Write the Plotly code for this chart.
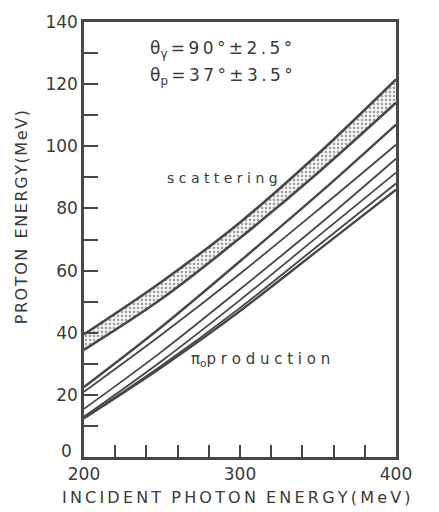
import plotly.graph_objects as go

# Incident photon energy grid (MeV)
photon_energy = [200, 250, 300, 350, 400]

# Elastic scattering band (proton energy, MeV)
scatter_upper = [39.5, 56.5, 75.5, 97.5, 121.5]
scatter_lower = [34.5, 51, 70.5, 91.5, 114]

# pi0 production curves (proton energy, MeV)
pion_1 = [22.5, 42, 63, 84.5, 107]
pion_2 = [21, 39.5, 59, 79.5, 100.5]
pion_3 = [15.5, 34, 54, 74.5, 96]
pion_4 = [13, 31, 50.5, 71, 91.5]
pion_5 = [12.5, 29.5, 48, 68, 88]
pion_6 = [12.5, 29, 47, 66.5, 86]
pion_curves = [pion_1, pion_2, pion_3, pion_4, pion_5, pion_6]

x_ticks = [200, 220, 240, 260, 280, 300, 320, 340, 360, 380, 400]
x_labels = ["200", "", "", "", "", "300", "", "", "", "", "400"]
y_ticks = [0, 10, 20, 30, 40, 50, 60, 70, 80, 90, 100, 110, 120, 130, 140]
y_labels = ["", "", "20", "", "40", "", "60", "", "80", "", "100", "", "120", "", "140"]

INK = "#474747"
TXT = "#3a3a3a"
FONT = "DejaVu Sans"
HAIR = "\u200a"
THIN = "\u2009"


def spaced(s, sep):
    return sep.join(list(s))


fig = go.Figure()

fig.add_trace(go.Scatter(
    x=photon_energy, y=scatter_lower, mode="lines",
    line=dict(color=INK, width=2.6, shape="spline", smoothing=1.0),
    showlegend=False, hoverinfo="skip"))
fig.add_trace(go.Scatter(
    x=photon_energy, y=scatter_upper, mode="lines",
    line=dict(color=INK, width=2.6, shape="spline", smoothing=1.0),
    fill="tonexty", fillcolor="white",
    fillpattern=dict(shape=".", fgcolor="#4a4a4a", bgcolor="white",
                     size=4, solidity=0.4),
    showlegend=False, hoverinfo="skip"))

for i, curve in enumerate(pion_curves):
    w = 2.4 if i in (0, len(pion_curves) - 1) else 1.8
    fig.add_trace(go.Scatter(
        x=photon_energy, y=curve, mode="lines",
        line=dict(color=INK, width=w, shape="spline", smoothing=1.0),
        showlegend=False, hoverinfo="skip"))

fig.add_annotation(x=0.205, y=0.936, xref="paper", yref="paper",
                   text="θ<sub>γ</sub>" + THIN + spaced("=90°±2.5°", THIN),
                   showarrow=False, xanchor="left", yanchor="middle",
                   font=dict(family=FONT, size=17, color=TXT))
fig.add_annotation(x=0.205, y=0.875, xref="paper", yref="paper",
                   text="θ<sub>p</sub>" + THIN + spaced("=37°±3.5°", THIN),
                   showarrow=False, xanchor="left", yanchor="middle",
                   font=dict(family=FONT, size=17, color=TXT))
fig.add_annotation(x=0.26, y=0.641, xref="paper", yref="paper",
                   text=spaced("scattering", " "), showarrow=False,
                   xanchor="left", yanchor="middle",
                   font=dict(family=FONT, size=14, color=TXT))
fig.add_annotation(x=0.335, y=0.225, xref="paper", yref="paper",
                   text="π<sub>o</sub>" + spaced("production", " "),
                   showarrow=False, xanchor="left", yanchor="middle",
                   font=dict(family=FONT, size=15, color=TXT))

# "0" label sits slightly above the origin, clear of the "200" label
fig.add_annotation(x=0, y=0, xref="paper", yref="paper", text="0",
                   showarrow=False, xanchor="right", yanchor="middle",
                   xshift=-10, yshift=6,
                   font=dict(family=FONT, size=17, color=TXT))

# axis titles
fig.add_annotation(x=0.49, y=-0.092, xref="paper", yref="paper",
                   text=spaced("INCIDENT", THIN) + "  " + spaced("PHOTON", THIN)
                   + "  " + spaced("ENERGY(MeV)", THIN),
                   showarrow=False, xanchor="center", yanchor="middle",
                   font=dict(family=FONT, size=16, color=TXT))
fig.add_annotation(x=-0.2, y=0.55, xref="paper", yref="paper",
                   text=spaced("PROTON", HAIR) + "  " + spaced("ENERGY(MeV)", HAIR),
                   textangle=-90, showarrow=False,
                   xanchor="center", yanchor="middle",
                   font=dict(family=FONT, size=16, color=TXT))

fig.update_xaxes(
    range=[200, 400], tickmode="array", tickvals=x_ticks, ticktext=x_labels,
    ticks="inside", ticklen=12, tickwidth=1.8, tickcolor=INK,
    showline=True, linecolor=INK, linewidth=2.5, mirror=True,
    showgrid=False, zeroline=False,
    tickfont=dict(family=FONT, size=17, color=TXT))
fig.update_yaxes(
    range=[0, 140], tickmode="array", tickvals=y_ticks, ticktext=y_labels,
    ticks="inside", ticklen=14, tickwidth=1.8, tickcolor=INK,
    showline=True, linecolor=INK, linewidth=2.5, mirror=True,
    showgrid=False, zeroline=False,
    tickfont=dict(family=FONT, size=17, color=TXT))

fig.update_layout(
    width=439, height=512,
    margin=dict(l=84, r=43, t=17, b=55),
    paper_bgcolor="white", plot_bgcolor="white")

fig.write_html("out.html")
